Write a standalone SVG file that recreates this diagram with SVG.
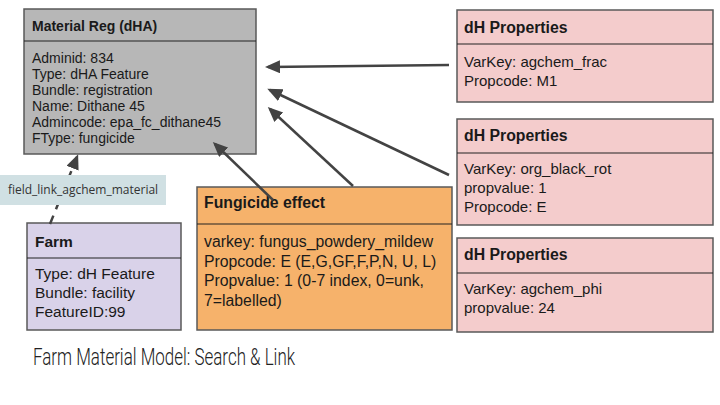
<svg xmlns="http://www.w3.org/2000/svg" width="720" height="405" viewBox="0 0 720 405">
<style>
.box{stroke:#595959;stroke-width:1.5}
.div{stroke:#222;stroke-width:1.2}
.t{font-family:"Liberation Sans",Arial,sans-serif;fill:#1a1a1a}
.b{font-weight:bold}
.conn{stroke:#434343;stroke-width:2.5;fill:none}
</style>
<defs>
<marker id="ah" markerUnits="userSpaceOnUse" markerWidth="16" markerHeight="14" refX="12" refY="6.5" orient="auto">
<path d="M0,0 L15,6.5 L0,13 z" fill="#434343"/>
</marker>
</defs>
<rect width="720" height="405" fill="#fff"/>

<g id="material">
<rect class="box" x="24" y="9" width="232" height="145" fill="#b7b7b7"/>
<line class="div" x1="24" y1="41" x2="256" y2="41"/>
<text class="t b" x="32" y="31" font-size="14">Material Reg (dHA)</text>
<text class="t" font-size="14">
<tspan x="32" y="63">Adminid: 834</tspan>
<tspan x="32" y="79">Type: dHA Feature</tspan>
<tspan x="32" y="95">Bundle: registration</tspan>
<tspan x="32" y="111">Name: Dithane 45</tspan>
<tspan x="32" y="127">Admincode: epa_fc_dithane45</tspan>
<tspan x="32" y="143">FType: fungicide</tspan>
</text>
</g>

<g id="farm">
<rect class="box" x="27" y="223" width="154" height="107" fill="#d9d2e9"/>
<line class="div" x1="27" y1="258" x2="181" y2="258"/>
<text class="t b" x="35" y="247" font-size="15.5">Farm</text>
<text class="t" font-size="15.5">
<tspan x="35" y="279">Type: dH Feature</tspan>
<tspan x="35" y="298">Bundle: facility</tspan>
<tspan x="35" y="317">FeatureID:99</tspan>
</text>
</g>

<g id="fungicide">
<rect class="box" x="197" y="187" width="255" height="143" fill="#f6b26b" stroke="#333"/>
<line class="div" x1="197" y1="224" x2="452" y2="224"/>
<text class="t b" x="204" y="208" font-size="15.8">Fungicide effect</text>
<text class="t" font-size="15.8">
<tspan x="204" y="247">varkey: fungus_powdery_mildew</tspan>
<tspan x="204" y="266.5">Propcode: E (E,G,GF,F,P,N, U, L)</tspan>
<tspan x="204" y="286">Propvalue: 1 (0-7 index, 0=unk,</tspan>
<tspan x="204" y="305.5">7=labelled)</tspan>
</text>
</g>

<g id="prop1">
<rect class="box" x="457" y="10" width="256" height="92" fill="#f4cccc" stroke="#777"/>
<line class="div" x1="457" y1="44" x2="713" y2="44"/>
<text class="t b" x="464" y="33" font-size="15.8">dH Properties</text>
<text class="t" font-size="15">
<tspan x="464" y="67">VarKey: agchem_frac</tspan>
<tspan x="464" y="86">Propcode: M1</tspan>
</text>
</g>

<g id="prop2">
<rect class="box" x="457" y="119" width="256" height="106" fill="#f4cccc" stroke="#777"/>
<line class="div" x1="457" y1="153" x2="713" y2="153"/>
<text class="t b" x="464" y="141" font-size="15.8">dH Properties</text>
<text class="t" font-size="15">
<tspan x="464" y="174">VarKey: org_black_rot</tspan>
<tspan x="464" y="193">propvalue: 1</tspan>
<tspan x="464" y="212">Propcode: E</tspan>
</text>
</g>

<g id="prop3">
<rect class="box" x="457" y="238" width="256" height="94" fill="#f4cccc" stroke="#777"/>
<line class="div" x1="457" y1="273" x2="713" y2="273"/>
<text class="t b" x="464" y="260" font-size="15.8">dH Properties</text>
<text class="t" font-size="15">
<tspan x="464" y="294">VarKey: agchem_phi</tspan>
<tspan x="464" y="313">propvalue: 24</tspan>
</text>
</g>

<g id="connectors">
<line class="conn" x1="449" y1="65" x2="268" y2="67" marker-end="url(#ah)"/>
<line class="conn" x1="449" y1="175" x2="270" y2="90" marker-end="url(#ah)"/>
<line class="conn" x1="353" y1="186" x2="270" y2="109" marker-end="url(#ah)"/>
<line class="conn" x1="273" y1="200" x2="215" y2="144" marker-end="url(#ah)"/>
<line class="conn" x1="50" y1="224" x2="77" y2="157" stroke-dasharray="9,7" marker-end="url(#ah)"/>
<g id="link-label">
<rect x="0" y="175" width="166" height="30" fill="#d0e0e3"/>
<text x="83" y="194" font-family="'Open Sans',sans-serif" font-size="12" fill="#333" text-anchor="middle">field_link_agchem_material</text>
</g>
</g>

<text x="33" y="365" font-family="Roboto,'Liberation Sans',sans-serif" font-weight="300" font-size="23" fill="#222" textLength="262" lengthAdjust="spacingAndGlyphs">Farm Material Model: Search &amp; Link</text>
</svg>
